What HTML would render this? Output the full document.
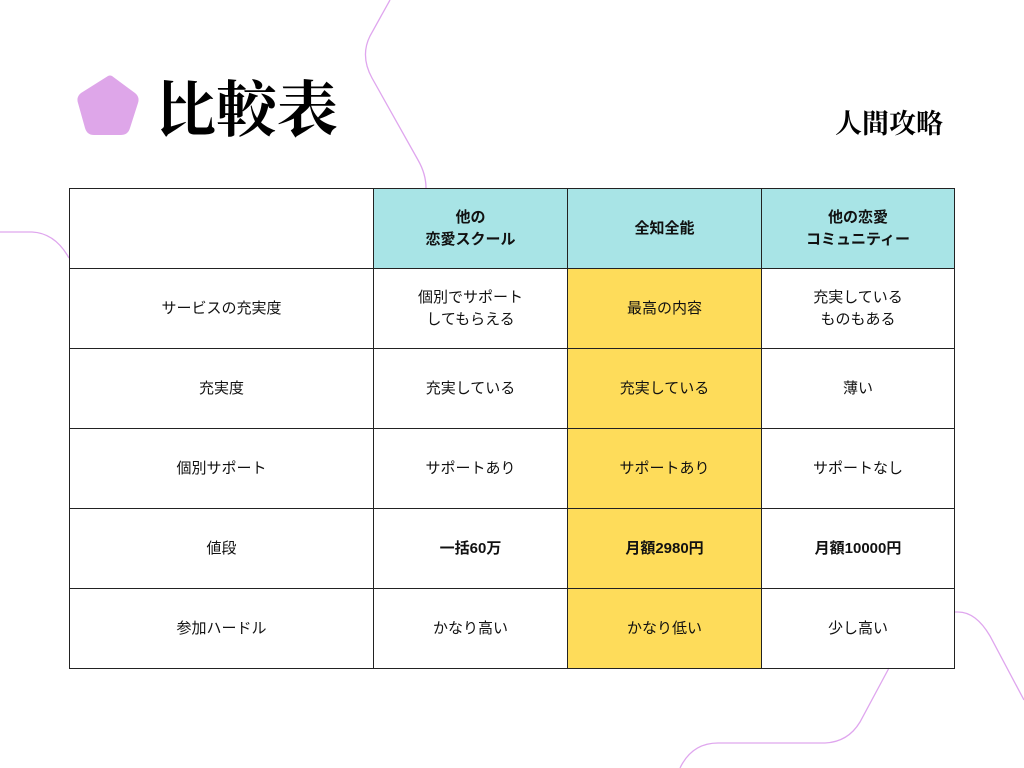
<!DOCTYPE html>
<html><head><meta charset="utf-8"><style>
body{margin:0;width:1024px;height:768px;background:#fff;position:relative;overflow:hidden;font-family:"Liberation Sans","Noto Sans CJK JP",sans-serif;}
.c{position:absolute;display:flex;align-items:center;justify-content:center;text-align:center;font-size:15px;line-height:22px;color:#111;box-sizing:border-box;border:1px solid #222;}
.h{background:#a8e4e6;font-weight:bold;font-size:15px;}
.y{background:#fedc5a;}
.b{font-weight:bold;}
</style></head><body>
<svg width="1024" height="768" style="position:absolute;left:0;top:0">
<g fill="none" stroke="#dfa6ee" stroke-width="1.3">
<path d="M390 0 L370 36 Q360 56 372 78 L418 160 Q426 174 426 188"/>
<path d="M0 232 L32 232 Q55 233 69 258"/>
<path d="M680 768 Q692 743 718 743 L825 743 Q848 742 860 722 L889 668"/>
<path d="M954 612 L958 612 Q976 612 990 636 L1024 700"/>
</g>
<path d="M108 76 Q110 75 112 76 L135 93 Q140 97 138 103 L130 128 Q128 135 121 135 L94 135 Q87 135 85 128 L78 103 Q76 97 81 93 Z" fill="#dea6e9"/>
</svg>
<div style="position:absolute;left:155px;top:72px;font-family:'Liberation Serif','Noto Serif CJK SC',serif;font-size:61px;line-height:80px;font-weight:bold;">比較表</div>
<div style="position:absolute;left:835px;top:104px;font-family:'Liberation Serif','Noto Serif CJK SC',serif;font-size:27px;line-height:40px;font-weight:bold;">人間攻略</div>

<div class="c" style="left:69px;top:188px;width:305px;height:81px"></div>
<div class="c h" style="left:373px;top:188px;width:195px;height:81px">他の<br>恋愛スクール</div>
<div class="c h" style="left:567px;top:188px;width:195px;height:81px">全知全能</div>
<div class="c h" style="left:761px;top:188px;width:194px;height:81px">他の恋愛<br>コミュニティー</div>

<div class="c" style="left:69px;top:268px;width:305px;height:81px">サービスの充実度</div>
<div class="c" style="left:373px;top:268px;width:195px;height:81px">個別でサポート<br>してもらえる</div>
<div class="c y" style="left:567px;top:268px;width:195px;height:81px">最高の内容</div>
<div class="c" style="left:761px;top:268px;width:194px;height:81px">充実している<br>ものもある</div>

<div class="c" style="left:69px;top:348px;width:305px;height:81px">充実度</div>
<div class="c" style="left:373px;top:348px;width:195px;height:81px">充実している</div>
<div class="c y" style="left:567px;top:348px;width:195px;height:81px">充実している</div>
<div class="c" style="left:761px;top:348px;width:194px;height:81px">薄い</div>

<div class="c" style="left:69px;top:428px;width:305px;height:81px">個別サポート</div>
<div class="c" style="left:373px;top:428px;width:195px;height:81px">サポートあり</div>
<div class="c y" style="left:567px;top:428px;width:195px;height:81px">サポートあり</div>
<div class="c" style="left:761px;top:428px;width:194px;height:81px">サポートなし</div>

<div class="c" style="left:69px;top:508px;width:305px;height:81px">値段</div>
<div class="c b" style="left:373px;top:508px;width:195px;height:81px">一括60万</div>
<div class="c y b" style="left:567px;top:508px;width:195px;height:81px">月額2980円</div>
<div class="c b" style="left:761px;top:508px;width:194px;height:81px">月額10000円</div>

<div class="c" style="left:69px;top:588px;width:305px;height:81px">参加ハードル</div>
<div class="c" style="left:373px;top:588px;width:195px;height:81px">かなり高い</div>
<div class="c y" style="left:567px;top:588px;width:195px;height:81px">かなり低い</div>
<div class="c" style="left:761px;top:588px;width:194px;height:81px">少し高い</div>
</body></html>
